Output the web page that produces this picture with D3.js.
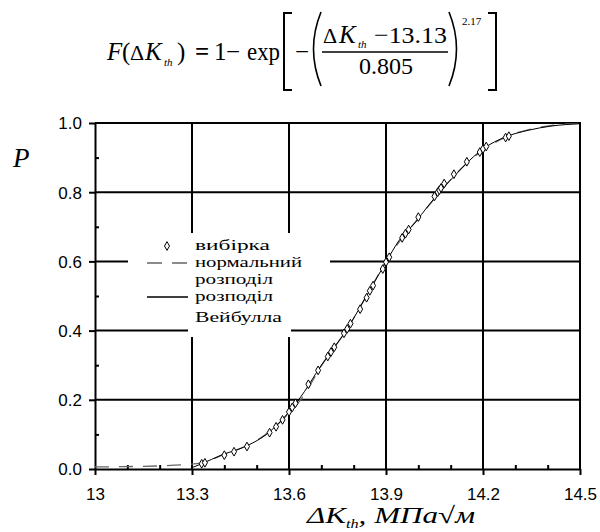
<!DOCTYPE html>
<html>
<head>
<meta charset="utf-8">
<script src="https://cdn.jsdelivr.net/npm/d3@7"></script>
<style>
  body { margin: 0; background: #fff; }
  text { fill: #000; }
</style>
</head>
<body>
<svg id="chart" width="600" height="532"></svg>
<script>
// ---- data ----
const xMajor = [13, 13.3, 13.6, 13.9, 14.2, 14.5];
const xMinor = [13.1, 13.2, 13.4, 13.5, 13.7, 13.8, 14.0, 14.1, 14.3, 14.4];
const xTickLabels = ["13", "13.3", "13.6", "13.9", "14.2", "14.5"];
const yMajor = [0, 0.2, 0.4, 0.6, 0.8, 1.0];
const yMinor = [0.1, 0.3, 0.5, 0.7, 0.9];
const yTickLabels = ["0.0", "0.2", "0.4", "0.6", "0.8", "1.0"];

// Weibull distribution curve
const weibullX = [13.30, 13.33, 13.39, 13.46, 13.53, 13.60, 13.63, 13.70, 13.78, 13.85, 13.90, 13.94, 13.99, 14.03, 14.07, 14.12, 14.17, 14.20, 14.27, 14.34, 14.41, 14.50];
const weibullP = [0.004, 0.015, 0.040, 0.063, 0.100, 0.165, 0.200, 0.300, 0.405, 0.517, 0.598, 0.660, 0.712, 0.760, 0.805, 0.855, 0.902, 0.925, 0.960, 0.979, 0.991, 0.998];

// normal distribution curve
const normalX = [13.00, 13.10, 13.20, 13.27, 13.33, 13.40, 13.47, 13.54, 13.60, 13.64, 13.70, 13.78, 13.85, 13.90, 13.95, 14.00, 14.04, 14.08, 14.12, 14.17, 14.22, 14.28, 14.35, 14.42, 14.50];
const normalP = [0.006, 0.007, 0.009, 0.012, 0.018, 0.042, 0.068, 0.108, 0.162, 0.205, 0.298, 0.405, 0.518, 0.600, 0.668, 0.724, 0.770, 0.815, 0.857, 0.900, 0.934, 0.963, 0.983, 0.994, 0.999];

// sample (empirical) points
const sampleX = [13.33, 13.34, 13.40, 13.43, 13.47, 13.54, 13.56, 13.58, 13.60, 13.61, 13.62, 13.66, 13.69, 13.72, 13.73, 13.74, 13.77, 13.78, 13.79, 13.82, 13.84, 13.85, 13.86, 13.89, 13.90, 13.91, 13.95, 13.96, 13.97, 14.00, 14.05, 14.06, 14.065, 14.07, 14.08, 14.11, 14.15, 14.19, 14.20, 14.21, 14.27, 14.28];
const sampleP = [0.015, 0.018, 0.040, 0.050, 0.065, 0.105, 0.122, 0.142, 0.165, 0.178, 0.190, 0.245, 0.285, 0.325, 0.338, 0.352, 0.392, 0.405, 0.420, 0.462, 0.495, 0.515, 0.530, 0.578, 0.598, 0.612, 0.668, 0.680, 0.692, 0.728, 0.788, 0.800, 0.806, 0.812, 0.825, 0.852, 0.888, 0.916, 0.925, 0.932, 0.958, 0.962];

const legendLabels = ["вибірка", "нормальний", "розподіл", "розподіл", "Вейбулла"];

// ---- layout ----
const svg = d3.select("#chart");
const x = d3.scaleLinear().domain([13, 14.5]).range([95, 580]);
const y = d3.scaleLinear().domain([0, 1]).range([469, 123]);
const serif = "'Liberation Serif', 'Times New Roman', serif";
const sans = "'Liberation Sans', Arial, sans-serif";

// ---- formula ----
const f = svg.append("g").attr("font-family", serif);
function t(str, px, py, size, opts = {}) {
  const el = f.append("text").attr("x", px).attr("y", py)
    .attr("font-size", size).text(str);
  if (opts.italic) el.attr("font-style", "italic");
  if (opts.bold) el.attr("font-weight", "bold");
  if (opts.anchor) el.attr("text-anchor", opts.anchor);
  if (opts.len) el.attr("textLength", opts.len).attr("lengthAdjust", "spacingAndGlyphs");
  return el;
}
t("F", 107, 60, 25, { italic: true });
t("(", 122, 60, 25);
t("Δ", 130, 60, 22);
t("K", 145, 60, 25, { italic: true });
t("th", 164, 66, 11, { italic: true });
t(")", 177, 60, 25);
t("=", 195, 60, 25, { bold: true });
t("1", 214, 60, 25);
t("−", 226, 60, 25);
t("exp", 247, 60, 25, { len: 33 });
t("−", 295, 60, 25);
t("Δ", 323, 43, 22);
t("K", 339, 43, 25, { italic: true });
t("th", 358, 48, 11, { italic: true });
t("−13.13", 374, 43, 24, { len: 73 });
t("0.805", 386, 74, 24, { anchor: "middle" });
t("2.17", 462, 25, 11);

const delim = f.append("g").attr("fill", "none").attr("stroke", "#000");
delim.append("path").attr("d", "M292,13 H284 V90 H292").attr("stroke-width", 2);
delim.append("path").attr("d", "M488,13 H496 V90 H488").attr("stroke-width", 2);
delim.append("path").attr("d", "M321,12 Q306,49 321,86").attr("stroke-width", 1.6);
delim.append("path").attr("d", "M449,12 Q464,49 449,86").attr("stroke-width", 1.6);
delim.append("path").attr("d", "M322,52 H448").attr("stroke-width", 1.6);

// ---- grid ----
const grid = svg.append("g").attr("stroke", "#000").attr("stroke-width", 2);
grid.selectAll(".gx").data(xMajor.slice(1, -1)).join("line")
  .attr("x1", d => x(d)).attr("x2", d => x(d))
  .attr("y1", y(0)).attr("y2", y(1));
grid.selectAll(".gy").data(yMajor.slice(1, -1)).join("line")
  .attr("x1", x(13)).attr("x2", x(14.5))
  .attr("y1", d => y(d)).attr("y2", d => y(d));

// legend background masks the grid
const legendBg = svg.append("g").attr("fill", "#fff");
legendBg.append("rect").attr("x", 128).attr("y", 233).attr("width", 202).attr("height", 72);
legendBg.append("rect").attr("x", 188).attr("y", 233).attr("width", 103).attr("height", 104);

// ---- axes ----
const xAxis = svg.append("g").attr("transform", `translate(0,${y(0)})`)
  .call(d3.axisBottom(x).tickValues(xMajor).tickSize(6).tickSizeOuter(0)
    .tickFormat((d, i) => xTickLabels[i]));
xAxis.append("g").call(d3.axisBottom(x).tickValues(xMinor).tickSize(-4).tickSizeOuter(0).tickFormat(""))
  .select(".domain").remove();
const yAxis = svg.append("g").attr("transform", `translate(${x(13)},0)`)
  .call(d3.axisLeft(y).tickValues(yMajor).tickSize(6).tickSizeOuter(0)
    .tickFormat((d, i) => yTickLabels[i]));
yAxis.append("g").call(d3.axisLeft(y).tickValues(yMinor).tickSize(-4).tickSizeOuter(0).tickFormat(""))
  .select(".domain").remove();

svg.selectAll(".domain").attr("stroke", "#000").attr("stroke-width", 2);
svg.selectAll(".tick line").attr("stroke", "#000").attr("stroke-width", 2);
xAxis.selectAll(".tick text").attr("font-family", sans).attr("font-size", 17)
  .attr("fill", "#000").attr("dy", null).attr("y", 31);
yAxis.selectAll(".tick text").attr("font-family", sans).attr("font-size", 17)
  .attr("fill", "#000").attr("x", -13).attr("dy", "0.35em");

// top and right frame
svg.append("path").attr("fill", "none").attr("stroke", "#000").attr("stroke-width", 2)
  .attr("d", `M${x(13)},${y(1)} H${x(14.5)} V${y(0)}`);

// ---- curves ----
const line = d3.line().x(d => x(d[0])).y(d => y(d[1])).curve(d3.curveMonotoneX);
svg.append("path").datum(normalX.map((v, i) => [v, normalP[i]]))
  .attr("d", line).attr("fill", "none").attr("stroke", "#666")
  .attr("stroke-width", 1.3).attr("stroke-dasharray", "14,10");
svg.append("path").datum(weibullX.map((v, i) => [v, weibullP[i]]))
  .attr("d", line).attr("fill", "none").attr("stroke", "#000").attr("stroke-width", 1);

const diamond = d3.symbol().type(d3.symbolDiamond).size(22);
svg.append("g").selectAll("path").data(sampleX.map((v, i) => [v, sampleP[i]])).join("path")
  .attr("d", diamond)
  .attr("transform", d => `translate(${x(d[0])},${y(d[1])})`)
  .attr("fill", "#fff").attr("stroke", "#000").attr("stroke-width", 1);

// ---- legend ----
const lg = svg.append("g");
lg.append("path").attr("d", diamond).attr("transform", "translate(167,246)")
  .attr("fill", "#fff").attr("stroke", "#000").attr("stroke-width", 1);
lg.append("line").attr("x1", 147).attr("x2", 188).attr("y1", 263).attr("y2", 263)
  .attr("stroke", "#666").attr("stroke-width", 1.3).attr("stroke-dasharray", "15,10");
lg.append("line").attr("x1", 147).attr("x2", 188).attr("y1", 297).attr("y2", 297)
  .attr("stroke", "#000").attr("stroke-width", 1.5);
const legendY = [250, 267, 284, 301, 322];
const legendW = [75, 107, 78, 78, 87];
lg.selectAll("text").data(legendLabels).join("text")
  .attr("x", 195).attr("y", (d, i) => legendY[i])
  .attr("font-family", serif).attr("font-size", 15.5)
  .attr("textLength", (d, i) => legendW[i]).attr("lengthAdjust", "spacingAndGlyphs")
  .text(d => d);

// ---- axis titles ----
svg.append("text").attr("x", 13).attr("y", 167)
  .attr("font-family", serif).attr("font-style", "italic").attr("font-size", 27).text("P");

const xl = svg.append("text").attr("x", 307).attr("y", 523)
  .attr("font-family", serif).attr("font-style", "italic").attr("font-size", 23)
  .attr("textLength", 168).attr("lengthAdjust", "spacingAndGlyphs");
xl.append("tspan").text("ΔK");
xl.append("tspan").attr("font-size", 12).attr("dy", 5).text("th");
xl.append("tspan").attr("dy", -5).text(", МПа√м");
</script>
</body>
</html>
